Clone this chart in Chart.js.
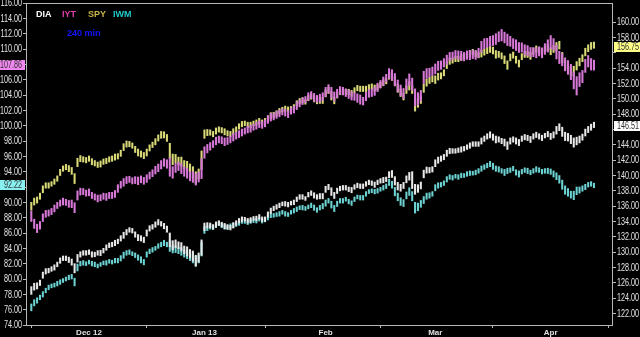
<!DOCTYPE html>
<html>
<head>
<meta charset="utf-8">
<script src="https://cdn.jsdelivr.net/npm/chart.js@4.4.1/dist/chart.umd.min.js"></script>
<style>
  html, body { margin: 0; padding: 0; background: #000; }
  #chart { display: block; }
</style>
</head>
<body>
<canvas id="chart" width="640" height="337"></canvas>
<script>
// 240 min bars, two per session, Nov 16 2012 .. Apr 10 2013
const monthLabels = ['Dec 12', 'Jan 13', 'Feb', 'Mar', 'Apr'];
const monthBars = [20, 60, 102, 140, 180];   // bar index of first bar of each month

const leftTicks = [74, 76, 78, 80, 82, 84, 86, 88, 90, 92, 94, 96, 98, 100, 102, 104, 106, 108, 110, 112, 114, 116];
const rightTicks = [122, 124, 126, 128, 130, 132, 134, 136, 138, 140, 142, 144, 146, 148, 150, 152, 154, 156, 158, 160];

// mid price of each bar and its high-low range
const diaMid = [
  125.0,125.5, 125.6,126.0, 127.0,127.5, 127.6,127.8, 128.0,128.4, 128.9,129.2, 129.2,129.0, 128.7,127.9, 129.2,129.7, 129.9,129.9,
  130.0,129.7, 129.7,129.9, 129.9,130.2, 130.6,130.9, 131.0,131.2, 131.4,131.8, 132.2,132.6, 132.9,132.8, 132.3,131.9, 131.8,131.6,
  132.5,133.1, 133.3,133.6, 133.9,133.7, 133.4,133.0, 131.6,130.9, 131.1,130.9, 130.7,130.3, 130.1,129.8, 129.5,128.9, 129.3,130.6,
  133.3,133.5, 133.5,133.3, 133.6,133.8, 133.6,133.4, 133.3,133.2, 133.5,133.8, 134.1,134.3, 134.3,134.1, 134.2,134.4, 134.4,134.6,
  134.3,134.3, 134.9,135.4, 135.7,135.9, 136.1,136.3, 136.3,136.2, 136.4,136.5, 136.9,137.2, 137.2,137.0, 137.5,137.7, 137.4,137.2,
  137.3,137.3, 138.2,138.5, 137.9,137.4, 138.0,138.3, 138.4,138.4, 138.2,138.1, 138.5,138.7, 138.6,138.6, 138.9,139.1, 139.0,138.8,
  139.1,139.3, 139.4,139.5, 140.1,140.2, 139.3,138.6, 138.4,138.7, 139.5,139.9, 139.4,138.2, 138.3,138.7, 140.2,140.7, 140.7,140.8,
  141.6,142.0, 142.2,142.4, 142.9,143.2, 143.2,143.2, 143.3,143.4, 143.5,143.7, 143.9,144.1, 144.1,144.1, 144.5,144.8, 145.1,145.3,
  145.0,144.7, 144.7,144.5, 144.3,143.9, 144.5,144.7, 144.5,144.3, 144.8,145.0, 144.9,144.7, 145.1,145.3, 145.1,144.9, 145.2,145.4,
  145.1,145.3, 145.9,146.3, 145.7,145.1, 145.0,144.7, 144.3,144.5, 144.7,145.0, 145.6,146.0, 146.3,146.6
];
const diaRng = [
  1.0,0.9, 0.8,0.7, 0.8,0.7, 0.6,0.6, 0.7,0.6, 0.7,0.6, 0.6,0.7, 0.8,1.2, 1.0,0.7, 0.6,0.6,
  0.6,0.7, 0.6,0.6, 0.7,0.6, 0.7,0.6, 0.6,0.7, 0.6,0.7, 0.8,0.7, 0.6,0.6, 0.7,0.8, 0.7,0.7,
  0.8,0.7, 0.6,0.7, 0.7,0.6, 0.7,0.8, 1.8,1.2, 1.0,0.9, 1.1,1.0, 1.2,1.1, 1.3,1.4, 1.2,2.0,
  1.0,0.7, 0.6,0.6, 0.7,0.6, 0.6,0.7, 0.6,0.6, 0.7,0.6, 0.6,0.6, 0.5,0.6, 0.6,0.5, 0.6,0.6,
  0.6,0.6, 0.7,0.7, 0.6,0.6, 0.6,0.5, 0.6,0.6, 0.5,0.6, 0.6,0.6, 0.6,0.5, 0.6,0.6, 0.7,0.6,
  0.7,0.7, 0.8,0.7, 1.0,0.8, 0.7,0.6, 0.6,0.6, 0.6,0.7, 0.6,0.6, 0.6,0.6, 0.6,0.6, 0.6,0.7,
  0.6,0.6, 0.7,0.6, 0.8,0.9, 1.1,1.0, 0.9,0.8, 0.9,1.0, 2.2,1.3, 1.0,0.9, 1.0,0.8, 0.7,0.7,
  0.9,0.8, 0.7,0.7, 0.8,0.7, 0.6,0.6, 0.6,0.7, 0.6,0.6, 0.7,0.6, 0.6,0.6, 0.8,0.7, 0.7,0.8,
  0.8,0.9, 0.7,0.7, 0.9,1.0, 0.8,0.7, 0.8,0.8, 0.7,0.7, 0.7,0.8, 0.7,0.7, 0.7,0.7, 0.6,0.7,
  0.8,0.8, 1.0,0.9, 1.2,1.1, 1.0,1.1, 1.2,1.0, 0.9,0.8, 0.9,0.8, 0.8,0.7
];

const iytMid = [
  88.2,87.2, 86.6,87.0, 88.0,88.5, 88.6,88.8, 89.2,89.6, 89.9,90.1, 90.0,89.8, 89.8,89.3, 90.9,91.4, 91.4,91.2,
  91.3,90.9, 90.7,90.5, 90.6,90.8, 90.7,90.9, 90.9,91.1, 91.8,92.3, 92.6,92.9, 93.0,92.8, 92.9,92.8, 93.0,92.8,
  93.1,93.5, 93.8,94.2, 94.5,94.9, 95.2,95.0, 94.6,93.9, 94.5,94.7, 94.4,94.0, 93.8,93.4, 93.3,93.0, 93.3,94.4,
  96.5,97.0, 97.3,97.6, 98.0,98.2, 98.1,97.9, 98.0,98.2, 98.5,98.7, 98.9,99.1, 99.3,99.5, 99.6,99.8, 100.0,100.2,
  100.1,100.3, 100.8,101.1, 101.2,101.4, 101.6,101.8, 101.7,101.5, 101.9,102.1, 102.6,102.9, 103.2,103.4, 103.8,104.0, 103.7,103.5,
  103.6,103.8, 104.4,104.8, 104.3,103.8, 104.2,104.6, 104.5,104.3, 104.1,103.9, 103.8,103.6, 103.4,103.2, 103.8,104.2, 104.3,104.5,
  105.0,105.4, 105.8,106.2, 106.8,106.6, 106.0,105.2, 104.6,104.2, 105.4,106.0, 105.4,103.7, 103.5,103.9, 106.3,106.8, 106.9,107.1,
  107.4,107.8, 107.9,108.2, 108.6,109.0, 109.1,109.3, 109.2,109.1, 109.0,109.2, 109.2,109.3, 109.2,109.5, 110.3,110.7, 110.8,111.0,
  111.1,111.3, 111.6,111.8, 111.5,111.2, 111.0,110.7, 110.5,110.2, 110.2,109.9, 109.8,109.6, 109.6,109.5, 109.7,109.5, 110.0,110.4,
  110.9,110.6, 109.6,108.9, 108.6,108.0, 107.6,107.0, 105.9,105.2, 106.0,106.4, 107.8,108.4, 108.0,107.9
];
const iytRng = [
  1.4,1.2, 1.1,1.0, 1.0,0.9, 0.8,0.8, 0.9,0.8, 0.8,0.9, 0.8,0.9, 1.0,1.3, 1.2,0.9, 0.8,0.8,
  0.9,0.8, 0.8,0.9, 0.8,0.8, 0.9,0.8, 0.8,0.9, 1.0,0.9, 1.0,0.9, 0.8,0.8, 0.9,1.0, 0.9,0.9,
  1.0,0.9, 0.9,1.0, 1.0,1.1, 1.0,1.1, 2.4,1.5, 1.2,1.1, 1.3,1.2, 1.3,1.2, 1.4,1.5, 1.3,2.6,
  1.5,1.1, 1.0,0.9, 1.0,0.9, 0.9,1.0, 0.9,0.9, 1.0,0.9, 0.9,0.9, 0.8,0.9, 0.9,0.8, 0.9,0.9,
  0.9,0.9, 1.0,1.0, 0.9,0.9, 0.9,0.8, 0.9,0.9, 0.8,0.9, 1.0,0.9, 0.9,0.8, 1.0,0.9, 1.0,0.9,
  1.0,1.0, 1.2,1.1, 1.4,1.2, 1.1,1.0, 1.0,1.0, 1.1,1.1, 1.0,1.1, 1.2,1.0, 1.1,1.0, 1.0,1.1,
  1.1,1.0, 1.1,1.0, 1.3,1.4, 1.6,1.5, 1.4,1.3, 1.4,1.5, 1.6,2.2, 1.6,1.4, 1.6,1.3, 1.2,1.1,
  1.3,1.2, 1.1,1.1, 1.2,1.1, 1.0,1.0, 1.1,1.2, 1.1,1.1, 1.2,1.1, 1.1,1.2, 1.4,1.3, 1.2,1.3,
  1.3,1.4, 1.3,1.5, 1.4,1.5, 1.3,1.3, 1.4,1.3, 1.2,1.3, 1.3,1.2, 1.2,1.3, 1.2,1.3, 1.4,1.6,
  1.7,1.5, 1.8,1.6, 1.6,1.7, 1.8,2.0, 2.2,2.4, 1.8,1.6, 1.7,1.5, 1.5,1.3
];

const spyMid = [
  136.0,136.6, 136.8,137.3, 138.2,138.7, 138.7,138.9, 139.2,139.6, 140.4,140.9, 141.1,140.9, 140.6,139.6, 141.7,142.2, 142.1,142.0,
  142.2,141.8, 141.6,141.4, 141.5,141.8, 141.9,142.1, 142.2,142.4, 142.5,142.9, 143.7,144.1, 144.1,143.9, 143.4,143.0, 142.8,142.6,
  143.0,143.6, 144.0,144.4, 144.9,145.3, 145.3,144.9, 143.2,142.1, 142.2,141.9, 141.8,141.4, 141.2,140.9, 140.4,139.7, 140.2,142.0,
  145.4,145.6, 145.6,145.4, 145.8,146.0, 145.9,145.7, 145.5,145.4, 145.7,146.0, 146.4,146.7, 146.8,146.6, 146.6,146.8, 146.9,147.1,
  146.9,147.1, 147.4,147.8, 147.9,148.1, 148.4,148.6, 148.7,148.6, 148.7,148.9, 149.4,149.7, 149.8,149.6, 150.1,150.3, 150.0,149.7,
  149.8,149.8, 150.7,151.1, 150.4,149.8, 150.5,150.9, 150.9,150.9, 150.9,150.7, 151.1,151.4, 151.3,151.3, 151.3,151.5, 151.6,151.4,
  151.5,151.8, 152.1,152.3, 153.0,152.9, 152.3,151.4, 150.8,150.3, 151.2,151.7, 151.2,149.2, 149.5,149.9, 151.4,152.1, 152.4,152.6,
  152.5,152.9, 153.0,153.4, 154.4,154.9, 155.0,155.2, 155.2,155.4, 155.6,155.8, 155.9,156.1, 155.9,155.7, 155.9,156.1, 156.3,156.5,
  156.3,155.8, 155.8,155.6, 155.1,154.4, 155.4,155.7, 155.1,154.6, 155.5,155.8, 155.8,155.6, 156.2,156.5, 156.3,156.1, 156.5,156.7,
  156.2,156.5, 156.8,157.0, 155.4,154.4, 153.9,153.6, 153.6,154.3, 154.8,155.3, 156.1,156.6, 156.9,157.0
];
const spyRng = [
  1.0,0.9, 0.8,0.8, 0.9,0.7, 0.7,0.6, 0.7,0.7, 0.8,0.7, 0.7,0.8, 0.9,1.3, 1.1,0.8, 0.7,0.7,
  0.7,0.8, 0.7,0.7, 0.8,0.7, 0.7,0.7, 0.7,0.8, 0.7,0.8, 0.9,0.8, 0.7,0.7, 0.8,0.9, 0.8,0.8,
  0.9,0.8, 0.7,0.8, 0.8,0.9, 0.8,0.9, 2.0,1.4, 1.1,1.0, 1.2,1.1, 1.3,1.2, 1.5,1.6, 1.3,2.4,
  1.1,0.8, 0.7,0.7, 0.8,0.7, 0.7,0.8, 0.7,0.7, 0.8,0.7, 0.7,0.7, 0.6,0.7, 0.7,0.6, 0.7,0.7,
  0.7,0.7, 0.8,0.8, 0.7,0.7, 0.7,0.6, 0.7,0.7, 0.6,0.7, 0.7,0.7, 0.7,0.6, 0.7,0.7, 0.8,0.7,
  0.8,0.8, 0.9,0.8, 1.1,0.9, 0.8,0.7, 0.7,0.7, 0.7,0.8, 0.7,0.7, 0.7,0.7, 0.7,0.7, 0.7,0.8,
  0.7,0.7, 0.8,0.7, 0.9,1.0, 1.2,1.1, 1.0,0.9, 1.0,1.1, 1.0,1.6, 1.2,1.0, 1.1,0.9, 0.8,0.8,
  1.0,0.9, 0.8,0.8, 0.9,0.8, 0.7,0.7, 0.7,0.8, 0.7,0.7, 0.8,0.7, 0.8,0.7, 0.9,0.8, 0.8,0.9,
  0.9,1.0, 0.8,0.8, 1.0,1.1, 0.9,0.8, 0.9,0.9, 0.8,0.8, 0.8,0.9, 0.8,0.8, 0.8,0.8, 0.7,0.8,
  0.9,0.9, 1.1,1.0, 1.3,1.2, 1.1,1.2, 1.3,1.1, 1.0,0.9, 1.0,0.9, 0.9,0.8
];

const iwmMid = [
  76.3,76.9, 77.2,77.6, 78.0,78.5, 78.9,79.1, 79.2,79.4, 79.6,79.8, 80.0,80.2, 80.3,79.6, 81.5,82.0, 82.1,82.0,
  82.2,82.0, 81.9,81.7, 81.9,82.1, 82.1,82.3, 82.2,82.4, 82.4,82.7, 83.1,83.4, 83.5,83.3, 83.1,82.8, 82.5,82.2,
  83.2,83.6, 83.8,84.0, 84.3,84.5, 84.7,84.5, 84.3,83.9, 83.9,83.7, 83.6,83.3, 83.2,82.9, 82.7,82.3, 82.6,83.9,
  86.4,86.6, 86.8,86.7, 87.0,87.2, 87.0,86.8, 86.7,86.9, 87.0,87.1, 87.3,87.5, 87.5,87.4, 87.5,87.6, 87.6,87.8,
  87.6,87.7, 88.0,88.3, 88.3,88.4, 88.5,88.7, 88.5,88.4, 88.7,88.9, 89.1,89.3, 89.3,89.2, 89.4,89.6, 89.3,89.0,
  89.3,89.5, 89.9,90.2, 89.7,89.2, 89.8,90.2, 90.2,90.4, 90.1,89.9, 90.4,90.7, 90.6,90.6, 91.1,91.4, 91.5,91.4,
  91.5,91.7, 91.9,92.1, 92.6,92.3, 91.4,90.7, 90.1,89.9, 90.9,91.4, 90.8,89.3, 89.4,89.8, 90.3,90.8, 90.9,91.1,
  91.9,92.2, 92.3,92.5, 93.0,93.3, 93.2,93.4, 93.3,93.5, 93.5,93.7, 93.8,93.8, 93.9,94.1, 94.4,94.6, 94.8,95.0,
  94.7,94.4, 94.3,94.1, 93.9,94.1, 94.2,94.4, 93.9,93.7, 94.0,94.2, 94.1,93.9, 94.1,94.3, 94.2,94.0, 94.1,94.1,
  94.0,93.7, 93.4,93.0, 92.3,91.6, 91.3,91.0, 90.9,91.5, 91.6,91.8, 92.0,92.3, 92.4,92.2
];
const iwmRng = [
  0.9,0.8, 0.7,0.6, 0.7,0.6, 0.6,0.5, 0.5,0.6, 0.6,0.5, 0.5,0.6, 0.6,1.0, 0.9,0.6, 0.6,0.5,
  0.5,0.6, 0.6,0.5, 0.5,0.5, 0.6,0.5, 0.5,0.6, 0.6,0.7, 0.8,0.6, 0.6,0.5, 0.6,0.7, 0.8,0.7,
  0.7,0.6, 0.6,0.5, 0.6,0.6, 0.7,0.6, 1.4,1.0, 0.9,0.8, 1.0,0.9, 1.1,1.0, 1.2,1.3, 1.0,1.8,
  0.9,0.6, 0.6,0.5, 0.6,0.5, 0.6,0.6, 0.5,0.6, 0.6,0.5, 0.6,0.5, 0.5,0.6, 0.5,0.5, 0.6,0.5,
  0.6,0.5, 0.6,0.6, 0.5,0.5, 0.6,0.5, 0.6,0.5, 0.5,0.6, 0.6,0.5, 0.6,0.5, 0.5,0.6, 0.7,0.6,
  0.6,0.7, 0.8,0.6, 0.9,0.8, 0.7,0.6, 0.6,0.5, 0.6,0.6, 0.6,0.5, 0.6,0.6, 0.6,0.5, 0.5,0.6,
  0.6,0.5, 0.6,0.6, 0.8,0.9, 1.1,1.0, 1.0,0.9, 0.9,1.0, 1.2,1.4, 1.0,0.9, 0.9,0.8, 0.7,0.6,
  0.8,0.7, 0.6,0.6, 0.7,0.6, 0.6,0.5, 0.6,0.6, 0.5,0.6, 0.6,0.5, 0.6,0.6, 0.7,0.6, 0.6,0.7,
  0.8,0.7, 0.7,0.6, 0.8,0.7, 0.6,0.6, 0.7,0.8, 0.6,0.6, 0.7,0.6, 0.6,0.7, 0.6,0.6, 0.6,0.7,
  0.7,0.8, 0.9,1.0, 1.2,1.1, 1.0,0.9, 1.1,1.0, 0.8,0.7, 0.7,0.6, 0.6,0.6
];

// last prices shown in the axis boxes
const lastPrices = [146.51, 107.86, 156.75, 92.22];

const symbols = ['DIA', 'IYT', 'SPY', 'IWM'];
const barColors = ['#e8e8e8', '#d878d8', '#dada78', '#6cd2d2'];
const legendColors = ['#ffffff', '#e040b0', '#c8b448', '#20c8c8'];
const boxColors = ['#ffffff', '#f088f0', '#ffff88', '#88f0f0'];
const axisIds = ['yR', 'yL', 'yR', 'yL'];
const mids = [diaMid, iytMid, spyMid, iwmMid];
const rngs = [diaRng, iytRng, spyRng, iwmRng];

const frameColor = '#b8b8b8';
const labelFont = "10px 'Liberation Sans', sans-serif";
const squeeze = 0.72;   // narrow face for axis numbers

function hiddenNear(v, axis) {
    return lastPrices.some((p, i) => axisIds[i] === axis && Math.abs(p - v) < 1.2);
}

// condensed text, anchored at x (right edge if alignRight)
function narrowText(ctx, txt, x, y, alignRight) {
    ctx.save();
    ctx.translate(x, y);
    ctx.scale(squeeze, 1);
    ctx.textAlign = alignRight ? 'right' : 'left';
    ctx.fillText(txt, 0, 0);
    ctx.restore();
}

const datasets = symbols.map((name, s) => ({
    label: name,
    data: mids[s].map((m, i) => ({ x: i, y: [m - rngs[s][i] / 2, m + rngs[s][i] / 2] })),
    yAxisID: axisIds[s],
    backgroundColor: barColors[s],
    borderWidth: 0,
    barThickness: 1.4,
    grouped: false
}));

// frame, axis numbers, legend text, period and last price boxes
const overlay = {
    id: 'overlay',
    afterDraw(chart) {
        const ctx = chart.ctx;
        const a = chart.chartArea;
        ctx.save();
        ctx.strokeStyle = frameColor;
        ctx.lineWidth = 1;
        ctx.strokeRect(a.left + 0.5, a.top + 0.5, a.right - a.left - 1, a.bottom - a.top);

        ctx.font = labelFont;
        ctx.textBaseline = 'middle';
        ctx.fillStyle = '#e4e4e4';
        leftTicks.forEach(v => {
            if (!hiddenNear(v, 'yL')) narrowText(ctx, v.toFixed(2), a.left - 4, chart.scales.yL.getPixelForValue(v) + 0.5, true);
        });
        rightTicks.forEach(v => {
            if (!hiddenNear(v, 'yR')) narrowText(ctx, v.toFixed(2), a.right + 4, chart.scales.yR.getPixelForValue(v) + 0.5, false);
        });

        lastPrices.forEach((p, i) => {
            const y = Math.round(chart.scales[axisIds[i]].getPixelForValue(p));
            const left = axisIds[i] === 'yL';
            const x0 = left ? 0 : a.right + 1;
            const w = left ? a.left - 1 : 640 - x0;
            ctx.fillStyle = boxColors[i];
            ctx.fillRect(x0, y - 5, w, 10);
            ctx.fillStyle = '#303030';
            narrowText(ctx, p.toFixed(2), left ? a.left - 4 : a.right + 4, y + 0.5, left);
        });

        ctx.font = "bold 9px 'Liberation Sans', sans-serif";
        ctx.textAlign = 'left';
        const legendX = [36, 62, 88, 113];
        symbols.forEach((name, i) => {
            ctx.fillStyle = legendColors[i];
            ctx.fillText(name, legendX[i], 15);
        });
        ctx.fillStyle = '#1414ff';
        ctx.fillText('240 min', 67, 34);
        ctx.restore();
    }
};

const sideGrid = { drawOnChartArea: false, drawTicks: true, tickLength: 3, color: frameColor };

new Chart(document.getElementById('chart'), {
    type: 'bar',
    data: { datasets },
    options: {
        responsive: false,
        animation: false,
        layout: { padding: { top: 3, left: 0, right: 0, bottom: 0 } },
        plugins: { legend: { display: false }, tooltip: { enabled: false } },
        scales: {
            x: {
                type: 'linear',
                min: -1.84,
                max: 201.6,
                offset: false,
                border: { display: false },
                grid: sideGrid,
                afterBuildTicks: sc => { sc.ticks = monthBars.map(v => ({ value: v })); },
                afterFit: sc => { sc.height = 12; },
                ticks: {
                    autoSkip: false,
                    maxRotation: 0,
                    padding: 0,
                    color: '#e0e0e0',
                    font: { family: "'Liberation Sans', sans-serif", size: 8, weight: 'bold' },
                    callback: (v, i) => monthLabels[i]
                }
            },
            yL: {
                type: 'linear',
                position: 'left',
                min: 74,
                max: 116,
                border: { display: false },
                grid: sideGrid,
                afterBuildTicks: sc => { sc.ticks = leftTicks.map(v => ({ value: v })); },
                afterFit: sc => { sc.width = 26; },
                ticks: { display: false }
            },
            yR: {
                type: 'linear',
                position: 'right',
                min: 120.5,
                max: 162.5,
                border: { display: false },
                grid: sideGrid,
                afterBuildTicks: sc => { sc.ticks = rightTicks.map(v => ({ value: v })); },
                afterFit: sc => { sc.width = 27; },
                ticks: { display: false }
            }
        }
    },
    plugins: [overlay]
});
</script>
</body>
</html>
